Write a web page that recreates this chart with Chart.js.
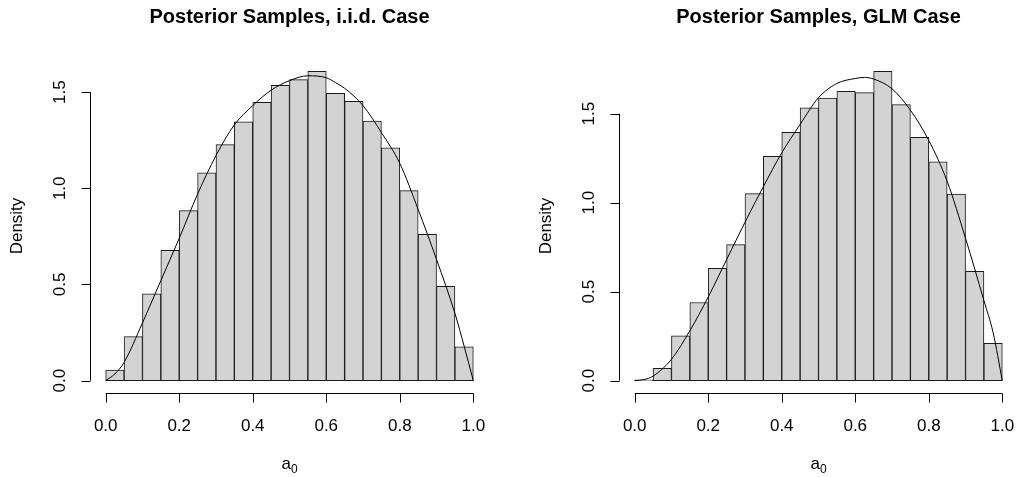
<!DOCTYPE html>
<html>
<head>
<meta charset="utf-8">
<script src="https://cdn.jsdelivr.net/npm/chart.js@4/dist/chart.umd.min.js"></script>
<style>
  body { margin: 0; background: #fff; }
  canvas { position: absolute; top: 0; }
  #left { left: 0; }
  #right { left: 509px; }
</style>
</head>
<body>
<canvas id="left" width="509" height="477"></canvas>
<canvas id="right" width="508" height="477"></canvas>
<script>
// ---------- data ----------
const binMids = [0.025, 0.075, 0.125, 0.175, 0.225, 0.275, 0.325, 0.375, 0.425, 0.475,
                 0.525, 0.575, 0.625, 0.675, 0.725, 0.775, 0.825, 0.875, 0.925, 0.975];

const iidDensity = [0.055, 0.229, 0.451, 0.678, 0.884, 1.080, 1.227, 1.345, 1.447, 1.536,
                    1.565, 1.608, 1.494, 1.452, 1.350, 1.210, 0.988, 0.761, 0.490, 0.176];
const glmDensity = [0.005, 0.069, 0.252, 0.439, 0.631, 0.764, 1.051, 1.260, 1.395, 1.533,
                    1.588, 1.626, 1.619, 1.738, 1.551, 1.368, 1.229, 1.048, 0.614, 0.209];

const curveX   = [0, 0.025, 0.05, 0.1, 0.15, 0.2, 0.25, 0.3, 0.35, 0.4, 0.45, 0.5,
                  0.55, 0.6, 0.625, 0.65, 0.7, 0.75, 0.8, 0.85, 0.9, 0.95, 0.975, 1];
const iidCurve = [0, 0.035, 0.095, 0.30, 0.52, 0.74, 0.97, 1.17, 1.33, 1.43, 1.51, 1.56,
                  1.585, 1.575, 1.55, 1.52, 1.43, 1.29, 1.13, 0.89, 0.63, 0.35, 0.18, 0];
const glmCurve = [0, 0.006, 0.025, 0.12, 0.28, 0.47, 0.68, 0.89, 1.09, 1.28, 1.44, 1.59,
                  1.67, 1.698, 1.704, 1.695, 1.64, 1.52, 1.35, 1.12, 0.80, 0.45, 0.27, 0];

const xTicks = [0, 0.2, 0.4, 0.6, 0.8, 1.0];
const yTicks = [0, 0.5, 1.0, 1.5];

const FONT = '"Liberation Sans", Arial, sans-serif';

// ---------- R-like axes, labels and title ----------
const rAxes = {
  id: 'rAxes',
  afterDraw(chart, args, opts) {
    const { ctx, chartArea: a, scales: { x, y } } = chart;
    const bottom = Math.round(a.bottom) + 0.5;
    const left = Math.round(a.left) - 0.5;
    const tick = 9;
    ctx.save();
    ctx.strokeStyle = '#000';
    ctx.fillStyle = '#000';
    ctx.lineWidth = 1;

    // x axis
    ctx.beginPath();
    ctx.moveTo(x.getPixelForValue(xTicks[0]), bottom);
    ctx.lineTo(x.getPixelForValue(xTicks[xTicks.length - 1]), bottom);
    xTicks.forEach(v => {
      const px = Math.round(x.getPixelForValue(v)) + 0.5;
      ctx.moveTo(px, bottom);
      ctx.lineTo(px, bottom + tick);
    });
    ctx.stroke();
    ctx.font = '17px ' + FONT;
    ctx.textAlign = 'center';
    ctx.textBaseline = 'alphabetic';
    xTicks.forEach(v => ctx.fillText(v.toFixed(1), x.getPixelForValue(v), a.bottom + 38));

    // y axis
    ctx.beginPath();
    ctx.moveTo(left, y.getPixelForValue(yTicks[0]));
    ctx.lineTo(left, y.getPixelForValue(yTicks[yTicks.length - 1]));
    yTicks.forEach(v => {
      const py = Math.round(y.getPixelForValue(v)) + 0.5;
      ctx.moveTo(left, py);
      ctx.lineTo(left - tick, py);
    });
    ctx.stroke();
    yTicks.forEach(v => {
      ctx.save();
      ctx.translate(a.left - 26, y.getPixelForValue(v));
      ctx.rotate(-Math.PI / 2);
      ctx.fillText(v.toFixed(1), 0, 0);
      ctx.restore();
    });

    // y label
    ctx.save();
    ctx.translate(a.left - 69, (a.top + a.bottom) / 2);
    ctx.rotate(-Math.PI / 2);
    ctx.fillText('Density', 0, 0);
    ctx.restore();

    // x label a0
    const cx = (a.left + a.right) / 2;
    ctx.font = '17px ' + FONT;
    const wa = ctx.measureText('a').width;
    ctx.font = '12px ' + FONT;
    const w0 = ctx.measureText('0').width;
    ctx.textAlign = 'left';
    ctx.font = '17px ' + FONT;
    ctx.fillText('a', cx - (wa + w0) / 2, a.bottom + 76);
    ctx.font = '12px ' + FONT;
    ctx.fillText('0', cx - (wa + w0) / 2 + wa, a.bottom + 80);

    // title
    ctx.font = 'bold 20px ' + FONT;
    ctx.textAlign = 'center';
    ctx.fillText(opts.text, cx, 23);
    ctx.restore();
  }
};

function drawPanel(id, title, density, curve, padLeft, padRight) {
  const top = Math.max(...density);
  return new Chart(document.getElementById(id), {
    type: 'bar',
    data: {
      datasets: [
        {
          type: 'line',
          data: curveX.map((v, i) => ({ x: v, y: curve[i] })),
          borderColor: '#000',
          borderWidth: 1,
          pointRadius: 0,
          cubicInterpolationMode: 'monotone',
          order: 0
        },
        {
          type: 'bar',
          data: binMids.map((v, i) => ({ x: v, y: density[i] })),
          backgroundColor: '#d3d3d3',
          borderColor: '#1a1a1a',
          borderWidth: 1,
          borderSkipped: false,
          barPercentage: 1,
          categoryPercentage: 1,
          order: 1
        }
      ]
    },
    options: {
      responsive: false,
      animation: false,
      events: [],
      layout: { padding: { left: padLeft, right: padRight, top: 59, bottom: 84 } },
      scales: {
        x: {
          type: 'linear', display: false, offset: false,
          min: -0.04, max: 1.04,
          ticks: { includeBounds: false, stepSize: 0.2 }
        },
        y: {
          type: 'linear', display: false,
          min: -0.04 * top, max: 1.04 * top
        }
      },
      plugins: {
        legend: { display: false },
        tooltip: { enabled: false },
        rAxes: { text: title }
      }
    },
    plugins: [rAxes]
  });
}

drawPanel('left', 'Posterior Samples, i.i.d. Case', iidDensity, iidCurve, 91, 21);
drawPanel('right', 'Posterior Samples, GLM Case', glmDensity, glmCurve, 111, 0);
</script>
</body>
</html>
